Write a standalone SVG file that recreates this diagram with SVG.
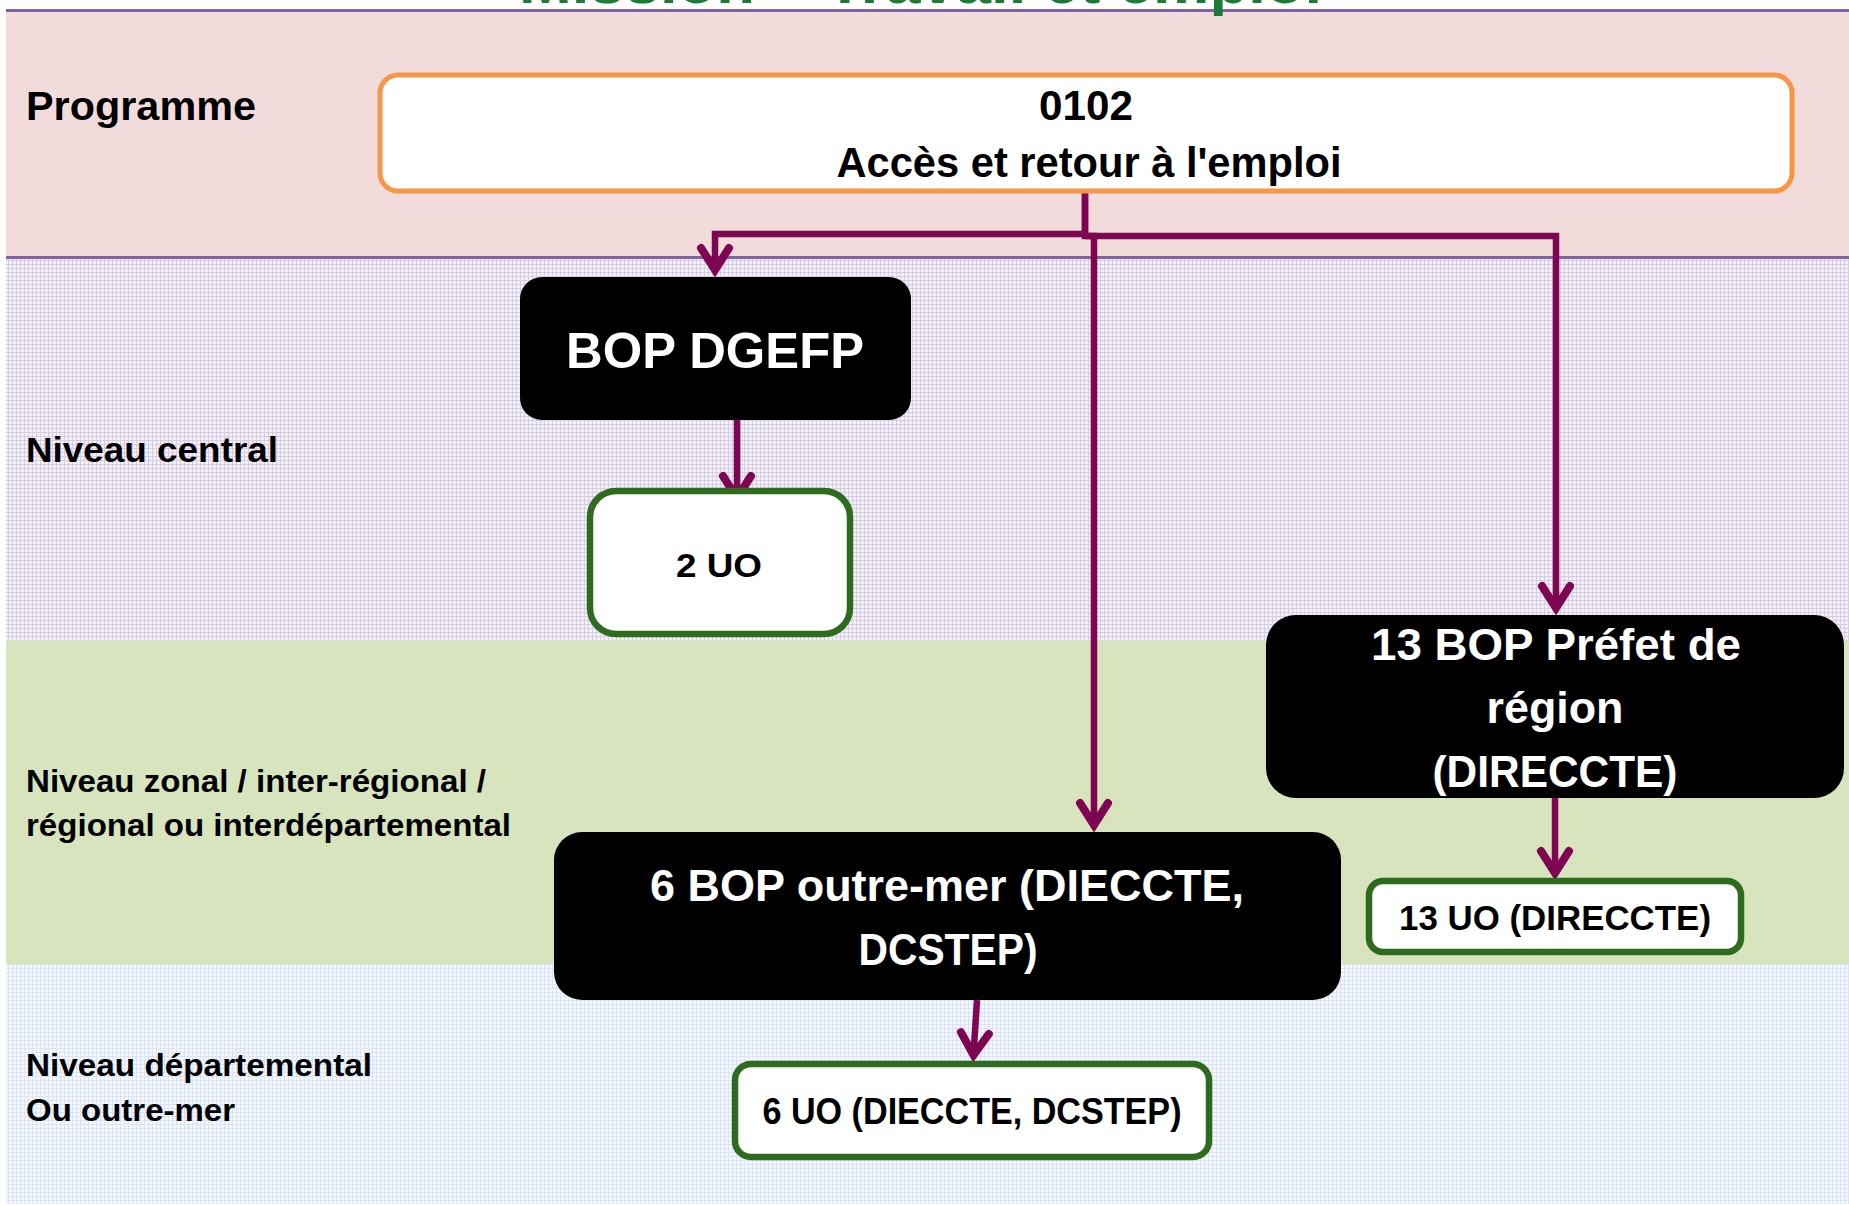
<svg xmlns="http://www.w3.org/2000/svg" width="1849" height="1206" viewBox="0 0 1849 1206">
<style>
text{font-family:"Liberation Sans",Arial,sans-serif;font-weight:bold}
.lbl{fill:#000000;text-anchor:start}
.ctr{text-anchor:middle}
.wt{fill:#FFFFFF}
.bk{fill:#000000}
.bop{fill:#000000}
.uo{fill:#FFFFFF;stroke:#2E6B1F;stroke-width:6.5}
.conn{fill:none;stroke:#7D0552;stroke-width:6.5;marker-end:url(#arr)}
.band-line{stroke:#8064A2;stroke-width:3}
</style>
<defs>
<pattern id="gridPurple" width="4" height="4" patternUnits="userSpaceOnUse">
<rect width="4" height="4" fill="#F3F0F7"/>
<path d="M0 0.5H4M0.5 0V4" stroke="#D6CCE4" stroke-width="1"/>
</pattern>
<pattern id="gridBlue" width="4" height="4" patternUnits="userSpaceOnUse">
<rect width="4" height="4" fill="#F4F7FC"/>
<path d="M0 0.5H4M0.5 0V4" stroke="#DAE4F4" stroke-width="1"/>
</pattern>
<marker id="arr" markerUnits="userSpaceOnUse" viewBox="-30 -20 45 40" markerWidth="45" markerHeight="40" refX="0" refY="0" orient="auto" overflow="visible">
<path d="M-22,-14 L0,0 L-22,14" fill="none" stroke="#7D0552" stroke-width="8" stroke-linejoin="miter" stroke-linecap="round"/>
</marker>
</defs>

<g id="background">
<rect x="6" y="11" width="1843" height="246" fill="#F2DCDB"/>
<rect x="6" y="257" width="1843" height="383" fill="url(#gridPurple)"/>
<rect x="6" y="640" width="1843" height="324" fill="#D7E4BD"/>
<rect x="6" y="964" width="1843" height="240" fill="url(#gridBlue)"/>
<line class="band-line" x1="6" y1="10.5" x2="1849" y2="10.5"/>
<line class="band-line" x1="6" y1="257.5" x2="1849" y2="257.5"/>
</g>

<g id="title">
<text x="519" y="2.5" font-size="62" fill="#1F7A37" textLength="856" lengthAdjust="spacingAndGlyphs">Mission « Travail et emploi »</text>
</g>

<g id="level-labels">
<text class="lbl" x="26" y="120" font-size="40" textLength="230" lengthAdjust="spacingAndGlyphs">Programme</text>
<text class="lbl" x="26" y="462" font-size="35" textLength="252" lengthAdjust="spacingAndGlyphs">Niveau central</text>
<text class="lbl" x="26" y="792" font-size="31" textLength="460" lengthAdjust="spacingAndGlyphs">Niveau zonal / inter-régional /</text>
<text class="lbl" x="26" y="836" font-size="31" textLength="485" lengthAdjust="spacingAndGlyphs">régional ou interdépartemental</text>
<text class="lbl" x="26" y="1076" font-size="31" textLength="346" lengthAdjust="spacingAndGlyphs">Niveau départemental</text>
<text class="lbl" x="26" y="1121" font-size="31" textLength="209" lengthAdjust="spacingAndGlyphs">Ou outre-mer</text>
</g>

<g id="connectors">
<path class="conn" d="M1085,191 V234 H715 V270"/>
<path class="conn" d="M1085,191 V236 H1556 V608"/>
<path class="conn" d="M1085,236 H1094 V825"/>
<path class="conn" d="M737,420 V498"/>
<path class="conn" d="M1555,798 V873"/>
<path class="conn" d="M977,1000 L973.5,1055"/>
</g>

<g id="programme-0102">
<rect x="380" y="75" width="1412" height="116" rx="18" fill="#FFFFFF" stroke="#F79646" stroke-width="5"/>
<text class="bk ctr" x="1086" y="120" font-size="42" textLength="94" lengthAdjust="spacingAndGlyphs">0102</text>
<text class="bk ctr" x="1089" y="177" font-size="42" textLength="505" lengthAdjust="spacingAndGlyphs">Accès et retour à l'emploi</text>
</g>

<g id="bop-dgefp">
<rect class="bop" x="520" y="277" width="391" height="143" rx="22"/>
<text class="wt ctr" x="715" y="368" font-size="50" textLength="298" lengthAdjust="spacingAndGlyphs">BOP DGEFP</text>
</g>

<g id="uo-central">
<rect class="uo" x="590" y="491" width="260" height="143" rx="26"/>
<text class="bk ctr" x="719" y="577" font-size="34" textLength="86" lengthAdjust="spacingAndGlyphs">2 UO</text>
</g>

<g id="bop-prefet-region">
<rect class="bop" x="1266" y="615" width="578" height="183" rx="30"/>
<text class="wt ctr" x="1556" y="660" font-size="45" textLength="370" lengthAdjust="spacingAndGlyphs">13 BOP Préfet de</text>
<text class="wt ctr" x="1555" y="723" font-size="45" textLength="137" lengthAdjust="spacingAndGlyphs">région</text>
<text class="wt ctr" x="1555" y="787" font-size="45" textLength="245" lengthAdjust="spacingAndGlyphs">(DIRECCTE)</text>
</g>

<g id="uo-direccte">
<rect class="uo" x="1369" y="881" width="372" height="71" rx="14"/>
<text class="bk ctr" x="1555" y="930" font-size="35" textLength="312" lengthAdjust="spacingAndGlyphs">13 UO (DIRECCTE)</text>
</g>

<g id="bop-outre-mer">
<rect class="bop" x="554" y="832" width="787" height="168" rx="28"/>
<text class="wt ctr" x="947" y="901" font-size="45" textLength="594" lengthAdjust="spacingAndGlyphs">6 BOP outre-mer (DIECCTE,</text>
<text class="wt ctr" x="948" y="965" font-size="45" textLength="179" lengthAdjust="spacingAndGlyphs">DCSTEP)</text>
</g>

<g id="uo-outre-mer">
<rect class="uo" x="735" y="1064" width="474" height="93" rx="16"/>
<text class="bk ctr" x="972" y="1124" font-size="36" textLength="419" lengthAdjust="spacingAndGlyphs">6 UO (DIECCTE, DCSTEP)</text>
</g>
</svg>
